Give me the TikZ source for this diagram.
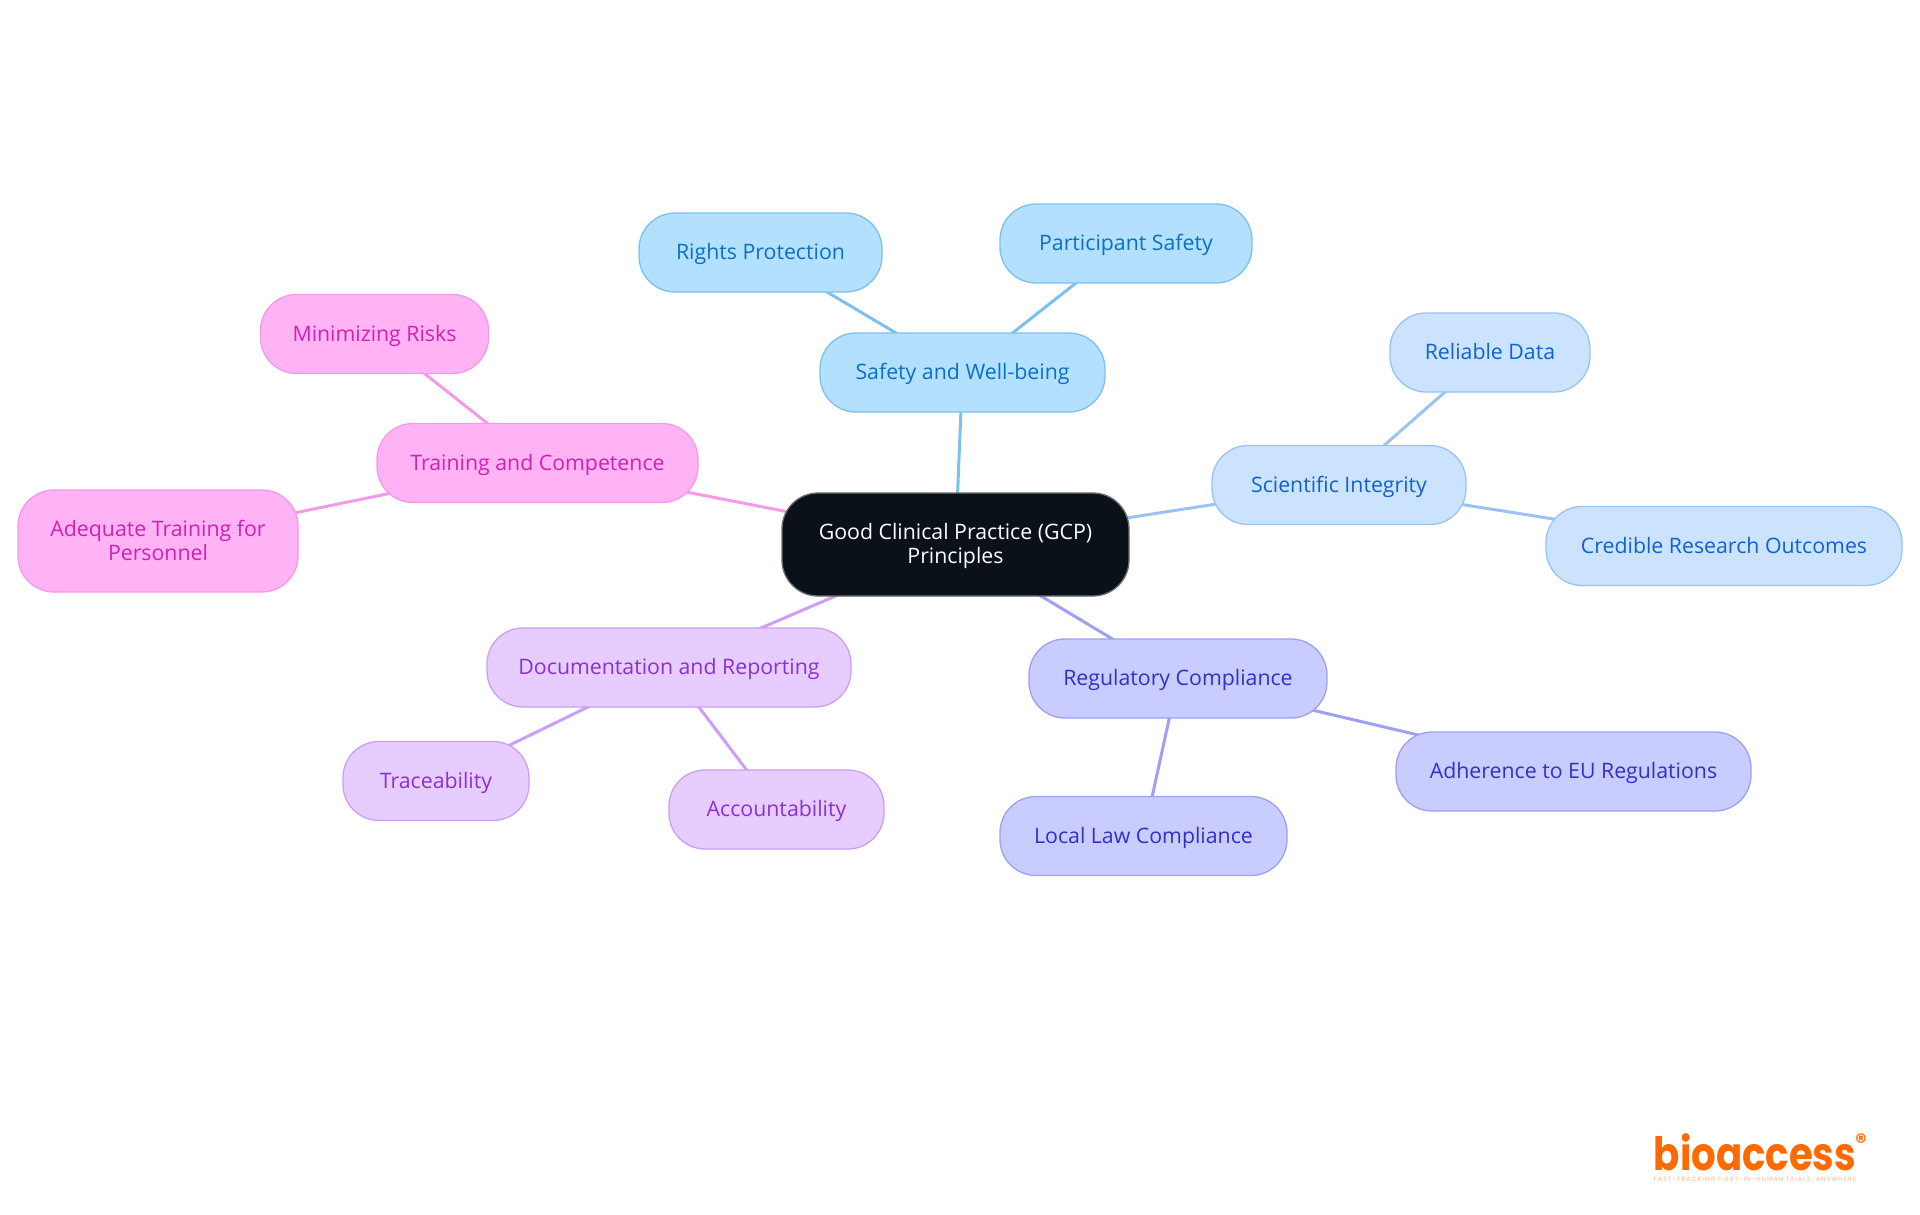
\documentclass[tikz,border=0pt]{standalone}
\usepackage{fontspec}
\setmainfont{Open Sans}
\newfontfamily\logofont{Poppins}[Scale=1.0]
\newfontfamily\tagfont{Poppins}[LetterSpace=18]
\usetikzlibrary{backgrounds}
\definecolor{rootfill}{HTML}{0B1119}
\definecolor{rootline}{HTML}{6A6E73}
\definecolor{safefill}{HTML}{B3E0FF}
\definecolor{safeline}{HTML}{7CC0F2}
\definecolor{safetext}{HTML}{0B70C4}
\definecolor{scifill}{HTML}{CCE3FF}
\definecolor{sciline}{HTML}{99C3F2}
\definecolor{scitext}{HTML}{1062CC}
\definecolor{regfill}{HTML}{C9CCFF}
\definecolor{regline}{HTML}{9E9FF5}
\definecolor{regtext}{HTML}{3330C9}
\definecolor{docfill}{HTML}{E6CCFF}
\definecolor{docline}{HTML}{CC9EF5}
\definecolor{doctext}{HTML}{8A30D6}
\definecolor{trnfill}{HTML}{FFB3F5}
\definecolor{trnline}{HTML}{F59AE6}
\definecolor{trntext}{HTML}{D020B5}
\definecolor{logoorange}{HTML}{FF6A00}
\definecolor{logotag}{HTML}{FFB585}
\tikzset{
  x=1pt,y=-1pt,
  mm/.style={draw,rounded corners=36pt,line width=1.3pt,align=center,inner sep=0pt,
    text height=19pt,text depth=5pt,
    font=\fontsize{21.3}{24}\selectfont},
  twoline/.style={text height=43.5pt,text depth=5pt},
  wh/.style 2 args={minimum width=#1pt,minimum height=#2pt},
  rootbox/.style={mm,fill=rootfill,draw=rootline,text=white},
  safebox/.style={mm,fill=safefill,draw=safeline,text=safetext},
  scibox/.style={mm,fill=scifill,draw=sciline,text=scitext},
  regbox/.style={mm,fill=regfill,draw=regline,text=regtext},
  docbox/.style={mm,fill=docfill,draw=docline,text=doctext},
  trnbox/.style={mm,fill=trnfill,draw=trnline,text=trntext},
  link/.style={line width=3pt},
}
\begin{document}
\begin{tikzpicture}
\useasboundingbox (0,0) rectangle (1920,1215);
\node[rootbox,twoline,wh={347}{103}] (root) at (955.5,544.5) {Good Clinical Practice (GCP)\\Principles};
\node[safebox,wh={285}{79}] (safety) at (962.5,372.5) {Safety and Well-being};
\node[safebox,wh={243}{79}] (rights) at (760.5,252.5) {Rights Protection};
\node[safebox,wh={252}{79}] (part) at (1126,243.5) {Participant Safety};
\node[scibox,wh={254}{79}] (sci) at (1339,485) {Scientific Integrity};
\node[scibox,wh={200}{79}] (rel) at (1490,352.5) {Reliable Data};
\node[scibox,wh={356}{79}] (cred) at (1724,546) {Credible Research Outcomes};
\node[regbox,wh={298}{79}] (reg) at (1178,678.5) {Regulatory Compliance};
\node[regbox,wh={355}{79}] (adh) at (1573.5,771.5) {Adherence to EU Regulations};
\node[regbox,wh={287}{79}] (local) at (1143.5,836) {Local Law Compliance};
\node[docbox,wh={364}{79}] (doc) at (669,667.5) {Documentation and Reporting};
\node[docbox,wh={186}{79}] (trace) at (436,781) {Traceability};
\node[docbox,wh={215}{79}] (acct) at (776.5,809.5) {Accountability};
\node[trnbox,wh={321}{79}] (trn) at (537.5,463) {Training and Competence};
\node[trnbox,wh={228}{79}] (min) at (374.5,334) {Minimizing Risks};
\node[trnbox,twoline,wh={280}{102}] (adq) at (158,541) {Adequate Training for\\Personnel};
\begin{scope}[on background layer]
\draw[link,safeline] (root.center) -- (safety.center);
\draw[link,safeline] (safety.center) -- (rights.center);
\draw[link,safeline] (safety.center) -- (part.center);
\draw[link,sciline] (root.center) -- (sci.center);
\draw[link,sciline] (sci.center) -- (rel.center);
\draw[link,sciline] (sci.center) -- (cred.center);
\draw[link,regline] (root.center) -- (reg.center);
\draw[link,regline] (reg.center) -- (adh.center);
\draw[link,regline] (reg.center) -- (local.center);
\draw[link,docline] (root.center) -- (doc.center);
\draw[link,docline] (doc.center) -- (trace.center);
\draw[link,docline] (doc.center) -- (acct.center);
\draw[link,trnline] (root.center) -- (trn.center);
\draw[link,trnline] (trn.center) -- (min.center);
\draw[link,trnline] (trn.center) -- (adq.center);
\end{scope}
\node[inner sep=0pt,anchor=base,text height=36pt,text depth=0pt,text=logoorange,font=\logofont\bfseries\fontsize{46}{46}\selectfont] (logo) at (1755,1170) {\scalebox{.84}[1]{bioaccess}};
\node[inner sep=0pt,text=logoorange,font=\logofont\bfseries\fontsize{22}{22}\selectfont] (regmark) at (1861,1142) {®};
\node[inner sep=0pt,anchor=base,text height=5pt,text depth=0pt,text=logotag,font=\tagfont\fontsize{6.2}{7}\selectfont] (tag) at (1755,1181) {FAST-TRACKING FIRST-IN-HUMAN TRIALS, ANYWHERE};
\end{tikzpicture}
\end{document}
